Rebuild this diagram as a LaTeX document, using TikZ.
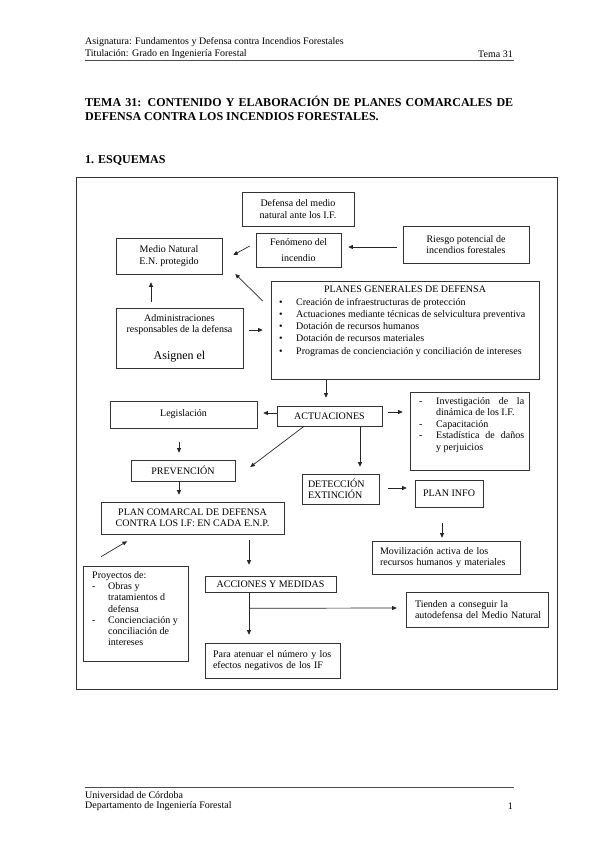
\documentclass[tikz,border=0pt]{standalone}
\usepackage{fontspec}
\setmainfont{Liberation Serif}
\usetikzlibrary{arrows.meta}
\newcommand{\fs}{\fontsize{10}{11.5}\selectfont}
\newcommand{\hdfs}{\fontsize{10}{12}\selectfont}
\tikzset{
  box/.style={draw=black!80, line width=.6pt, inner sep=0pt, font=\fs, align=center},
  txt/.style={inner sep=0pt, font=\fs, align=left},
  arr/.style={draw=black!85, line width=.7pt, -{Triangle[length=4.5pt,width=4pt]}},
}
\begin{document}
\begin{tikzpicture}[x=1pt,y=-1pt]
\useasboundingbox (0,0) rectangle (599,848);
% cabecera
\node[anchor=west, inner sep=0pt, font=\hdfs] (asig) at (85,42) {Asignatura: Fundamentos y Defensa contra Incendios Forestales};
\node[anchor=west, inner sep=0pt, font=\hdfs] (titul) at (85,54) {Titulación: Grado en Ingeniería Forestal};
\node[anchor=east, inner sep=0pt, font=\hdfs] (tema) at (513,54) {Tema 31};
\draw[black!70, line width=.5pt] (85,60) -- (514,60);
\node[anchor=north west, inner sep=0pt, text width=428pt, align=justify, font=\bfseries\fontsize{12}{14}\selectfont] (titulo) at (85,96)
  {TEMA 31: CONTENIDO Y ELABORACIÓN DE PLANES COMARCALES DE\linebreak DEFENSA CONTRA LOS INCENDIOS FORESTALES.};
\node[anchor=west, inner sep=0pt, font=\bfseries\fontsize{12}{14}\selectfont] (esquemas) at (85,160) {1. ESQUEMAS};
% marco
\draw[black!80, line width=.7pt] (76,177) rectangle (557,689);
% cajas
\node[box, minimum width=112pt, minimum height=34pt] (defensa) at (298,209) {Defensa del medio\\natural ante los I.F.};
\node[box, minimum width=85pt, minimum height=34pt] (fenomeno) at (298.5,250) {Fenómeno del\\[5pt]incendio};
\node[box, minimum width=106pt, minimum height=36pt] (medio) at (169,256) {Medio Natural\\E.N. protegido};
\node[box, minimum width=126pt, minimum height=37pt] (riesgo) at (466,244.5) {Riesgo potencial de\\incendios forestales};
\node[box, minimum width=127pt, minimum height=60pt] (admin) at (179.5,338)
  {Administraciones\\responsables de la defensa\\[15pt]{\fontsize{12}{14}\selectfont Asignen el}};
\node[box, minimum width=268pt, minimum height=98pt] (planes) at (405,330) {};
\node[txt] (planestit) at (405,289) {PLANES GENERALES DE DEFENSA};
\node[txt, anchor=north west, font=\fontsize{10}{12.2}\selectfont] (planeslst) at (279,298)
  {\makebox[17pt][l]{\textbullet}Creación de infraestructuras de protección\\
   \makebox[17pt][l]{\textbullet}Actuaciones mediante técnicas de selvicultura preventiva\\
   \makebox[17pt][l]{\textbullet}Dotación de recursos humanos\\
   \makebox[17pt][l]{\textbullet}Dotación de recursos materiales\\
   \makebox[17pt][l]{\textbullet}Programas de concienciación y conciliación de intereses};
\node[box, minimum width=147pt, minimum height=27pt] (legis) at (183.5,414.5) {Legislación};
\node[box, minimum width=105pt, minimum height=20pt] (actuac) at (329.5,416) {ACTUACIONES};
\node[box, minimum width=119pt, minimum height=78pt] (invest) at (469.5,431) {};
\node[txt, anchor=north west] (investtxt) at (419,396)
  {\begin{tabular}{@{}p{10pt}@{\hspace{7pt}}p{88pt}@{}}
   - & Investigación de la\linebreak dinámica de los I.F.\\
   - & Capacitación\\
   - & Estadística de daños\linebreak y perjuicios
   \end{tabular}};
\node[box, minimum width=104pt, minimum height=21pt] (prev) at (183,470.5) {PREVENCIÓN};
\node[box, minimum width=77pt, minimum height=30pt, text width=65pt, align=left] (detec) at (340.5,489) {DETECCIÓN\\EXTINCIÓN};
\node[box, minimum width=68pt, minimum height=27pt] (planinfo) at (449,493.5) {PLAN INFO};
\node[box, minimum width=183pt, minimum height=32pt] (plancom) at (192.5,518) {PLAN COMARCAL DE DEFENSA\\CONTRA LOS I.F: EN CADA E.N.P.};
\node[box, minimum width=148pt, minimum height=33pt, text width=132pt, align=left] (movil) at (446,557.5) {Movilización activa de los\\recursos humanos y materiales};
\node[box, minimum width=105pt, minimum height=95pt] (proyectos) at (135.5,613.5) {};
\node[txt, anchor=north west, font=\fontsize{10}{11.3}\selectfont] (proyectostxt) at (92,571)
  {Proyectos de:\\
   \makebox[16pt][l]{-}Obras y\\
   \hspace*{16pt}tratamientos d\\
   \hspace*{16pt}defensa\\
   \makebox[16pt][l]{-}Concienciación y\\
   \hspace*{16pt}conciliación de\\
   \hspace*{16pt}intereses};
\node[box, minimum width=131pt, minimum height=16pt] (acciones) at (270.5,584) {ACCIONES Y MEDIDAS};
\node[box, minimum width=142pt, minimum height=35pt, text width=124pt, align=left] (tienden) at (477,609.5) {Tienden a conseguir la\\\mbox{autodefensa del Medio Natural}};
\node[box, minimum width=135pt, minimum height=35pt, text width=119pt, align=left] (para) at (272.5,660.5) {Para atenuar el número y los\\efectos negativos de los IF};
% flechas
\draw[arr] ([xshift=-6pt,yshift=4pt]fenomeno.west) -- ([xshift=11pt,yshift=1pt]medio.east);
\draw[arr] ([xshift=-28.5pt,yshift=6pt]admin.north) -- ([xshift=-18pt,yshift=-8pt]medio.south);
\draw[arr] ([xshift=-8pt,yshift=29pt]planes.west) -- ([xshift=13pt,yshift=-18pt]medio.east);
\draw[arr] ([xshift=6pt,yshift=8pt]admin.east) -- ([xshift=-8pt]planes.west);
\draw[arr] ([xshift=-6pt,yshift=-2.5pt]riesgo.west) -- ([xshift=7pt,yshift=3pt]fenomeno.east);
\draw[arr] ([xshift=-79pt]planes.south) -- ([xshift=-3.5pt,yshift=8pt]actuac.north);
\draw[arr] ([yshift=3pt]actuac.west) -- ([xshift=6pt,yshift=1.5pt]legis.east);
\draw[arr] ([xshift=-25.5pt]actuac.south) -- ([xshift=15pt,yshift=3.5pt]prev.east);
\draw[arr] ([xshift=-4.5pt,yshift=-14pt]legis.south) -- ([xshift=-4pt,yshift=7pt]prev.north);
\draw[arr] ([xshift=-4pt,yshift=-1pt]prev.south) -- ([xshift=-13.5pt,yshift=7pt]plancom.north);
\draw[arr] ([xshift=6pt,yshift=4pt]actuac.east) -- ([xshift=-7pt,yshift=19pt]invest.west);
\draw[arr] ([xshift=30.5pt]actuac.south) -- ([xshift=19.5pt,yshift=7pt]detec.north);
\draw[arr] ([xshift=9pt,yshift=1pt]detec.east) -- ([xshift=-8pt,yshift=5.5pt]planinfo.west);
\draw[arr] ([xshift=-7pt,yshift=-16pt]planinfo.south) -- ([xshift=-4pt,yshift=3pt]movil.north);
\draw[arr] ([xshift=-34.5pt,yshift=9pt]proyectos.north) -- ([xshift=-65.5pt,yshift=-7pt]plancom.south);
\draw[arr] ([xshift=56.5pt,yshift=-6pt]plancom.south) -- ([xshift=-21.5pt,yshift=11pt]acciones.north);
\draw[arr] ([xshift=-21.5pt]acciones.south) -- ([xshift=-23.5pt,yshift=8pt]para.north);
\coordinate (ramal) at ([xshift=-21.5pt,yshift=-16pt]acciones.south);
\draw[arr] (ramal) -- ([xshift=-9pt,yshift=1.5pt]tienden.west);
% pie
\draw[black!70, line width=.5pt] (85,787) -- (514,787);
\node[anchor=west, inner sep=0pt, font=\hdfs] (univ) at (85,795) {Universidad de Córdoba};
\node[anchor=west, inner sep=0pt, font=\hdfs] (depto) at (85,806) {Departamento de Ingeniería Forestal};
\node[anchor=east, inner sep=0pt, font=\hdfs] (pagina) at (513,806) {1};
\end{tikzpicture}
\end{document}
